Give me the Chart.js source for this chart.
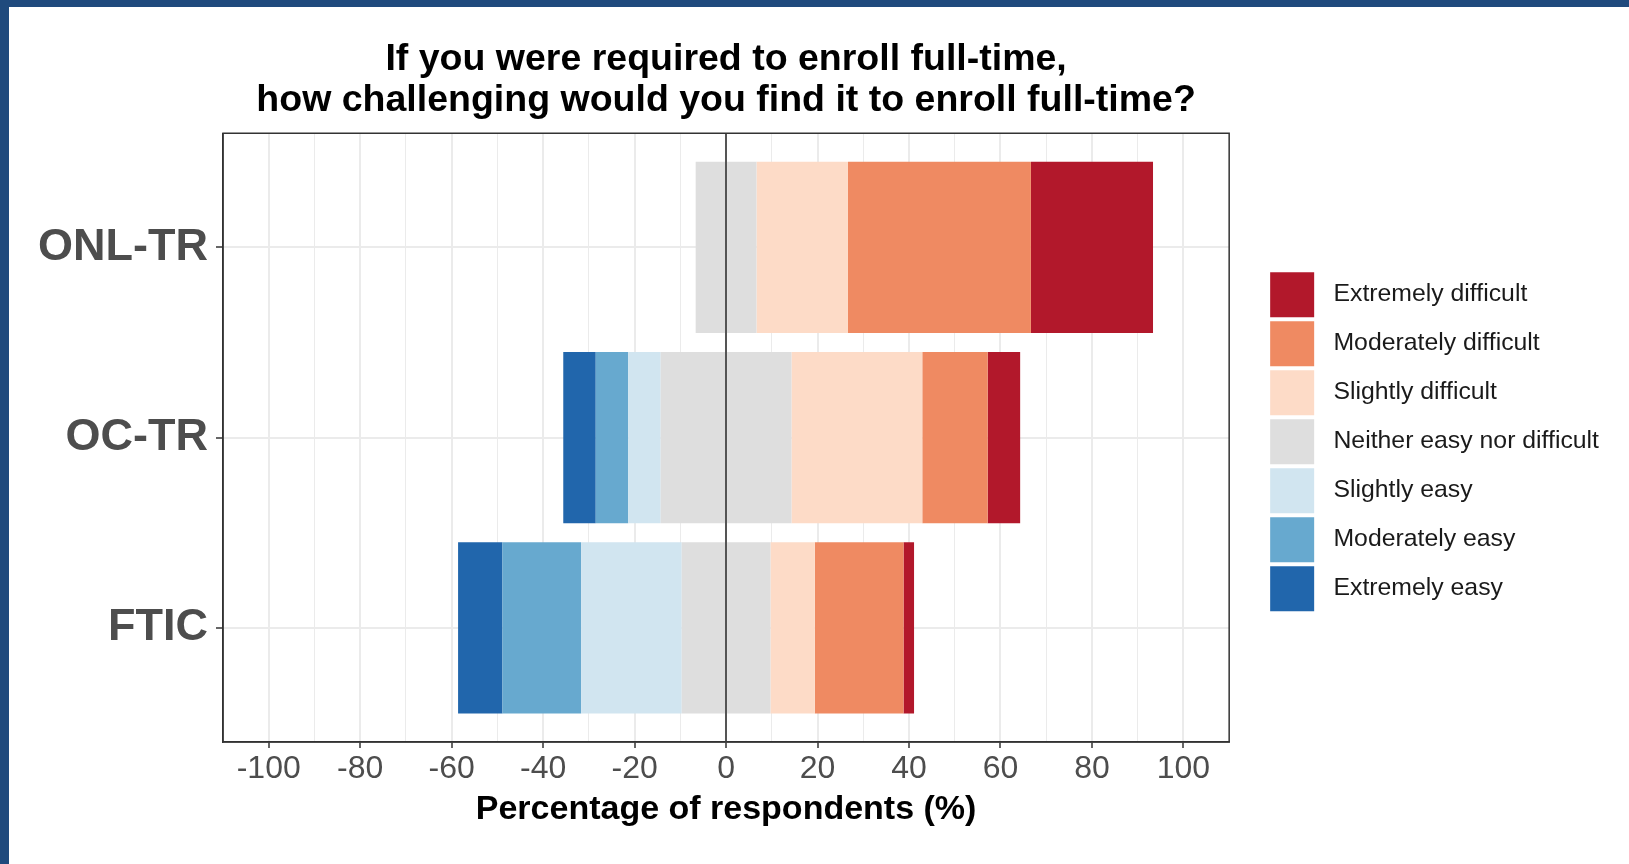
<!DOCTYPE html>
<html>
<head>
<meta charset="utf-8">
<script src="https://cdn.jsdelivr.net/npm/chart.js@4"></script>
<style>
  html, body { margin: 0; padding: 0; background: #1f4a7d; }
  #marco {
    margin: 7px 0 0 9px;
    width: 1620px;
    height: 857px;
    background: #ffffff;
  }
  canvas { display: block; }
</style>
</head>
<body>
<div id="marco"><canvas id="grafico" width="1620" height="857"></canvas></div>
<script>
// Datos (porcentaje de respuestas por grupo)
const grupos = ["ONL-TR", "OC-TR", "FTIC"];
const extremely_easy = [0, 7.1, 9.7];
const moderately_easy = [0, 7.1, 17.2];
const slightly_easy = [0, 7.1, 22.0];
const neither = [13.3, 28.6, 19.4];
const slightly_difficult = [20.0, 28.6, 9.7];
const moderately_difficult = [40.0, 14.3, 19.4];
const extremely_difficult = [26.7, 7.1, 2.3];
const etiquetas_x = [-100, -80, -60, -40, -20, 0, 20, 40, 60, 80, 100];
const niveles_leyenda = [
  "Extremely difficult",
  "Moderately difficult",
  "Slightly difficult",
  "Neither easy nor difficult",
  "Slightly easy",
  "Moderately easy",
  "Extremely easy",
];

const colores = {
  "Extremely difficult": "#b2182b",
  "Moderately difficult": "#ef8a62",
  "Slightly difficult": "#fddbc7",
  "Neither easy nor difficult": "#dedede",
  "Slightly easy": "#d1e5f0",
  "Moderately easy": "#67a9cf",
  "Extremely easy": "#2166ac",
};

Chart.defaults.font.family = "'Liberation Sans', Arial, Helvetica, sans-serif";

function posicion(i) {
  return grupos.length - i;
}

// signo -1 = lado "facil" (izquierda), factor 0.5 = mitad de la neutral
function serie(nombre, valores, signo, factor) {
  return {
    label: nombre,
    data: valores.map((v, i) => ({
      x: v === 0 ? null : signo * v * factor,
      y: posicion(i),
    })),
    backgroundColor: colores[nombre],
    borderWidth: 0,
    categoryPercentage: 0.9,
    barPercentage: 1,
    xAxisID: "x",
    yAxisID: "y",
  };
}

const datasets = [
  serie("Neither easy nor difficult", neither, -1, 0.5),
  serie("Neither easy nor difficult", neither, 1, 0.5),
  serie("Slightly easy", slightly_easy, -1, 1),
  serie("Slightly difficult", slightly_difficult, 1, 1),
  serie("Moderately easy", moderately_easy, -1, 1),
  serie("Moderately difficult", moderately_difficult, 1, 1),
  serie("Extremely easy", extremely_easy, -1, 1),
  serie("Extremely difficult", extremely_difficult, 1, 1),
];

// marco del panel (como panel.border de theme_bw)
const marco_panel = {
  id: "marco_panel",
  afterDraw(chart) {
    const { ctx, chartArea } = chart;
    ctx.save();
    ctx.strokeStyle = "#333333";
    ctx.lineWidth = 1.5;
    ctx.strokeRect(chartArea.left, chartArea.top, chartArea.width, chartArea.height);
    ctx.restore();
  },
};

const config = {
  type: "bar",
  data: { datasets: datasets },
  options: {
    indexAxis: "y",
    responsive: false,
    animation: false,
    layout: { padding: { top: 0, left: 0, right: 20, bottom: 34 } },
    scales: {
      x: {
        type: "linear",
        min: -110,
        max: 110,
        stacked: true,
        afterFit: (eje) => { eje.height = 88; },
        ticks: {
          stepSize: 10,
          autoSkip: false,
          maxRotation: 0,
          padding: 2,
          color: "#4d4d4d",
          font: { size: 32 },
          callback: (v) => (etiquetas_x.includes(v) ? String(v) : ""),
        },
        grid: {
          color: "#ebebeb",
          lineWidth: (c) => (c.tick && c.tick.value % 20 === 0 ? 2 : 1),
          tickLength: 6,
          tickWidth: 1.5,
          tickColor: (c) =>
            c.tick && etiquetas_x.includes(c.tick.value) ? "#333333" : "rgba(0,0,0,0)",
        },
        border: { color: "#333333", width: 1.5 },
        title: {
          display: true,
          text: "Percentage of respondents (%)",
          color: "#000000",
          font: { size: 34, weight: "bold" },
          padding: 0,
        },
      },
      // eje superior: solo la linea del cero, encima de las barras
      x2: {
        type: "linear",
        position: "top",
        min: -110,
        max: 110,
        afterBuildTicks: (eje) => { eje.ticks = [{ value: 0 }]; },
        afterFit: (eje) => { eje.height = 0; },
        ticks: { display: false },
        grid: { z: 1, color: "#555555", lineWidth: 2, drawTicks: false },
        border: { display: false },
      },
      y: {
        type: "linear",
        min: 0.4,
        max: 3.6,
        offset: false,
        stacked: true,
        afterBuildTicks: (eje) => {
          eje.ticks = grupos.map((g, i) => ({ value: posicion(i) }));
        },
        afterFit: (eje) => { eje.width = 214; },
        ticks: {
          autoSkip: false,
          padding: 8,
          color: "#4d4d4d",
          font: { size: 45, weight: "bold" },
          callback: (v) => grupos[grupos.length - v],
        },
        grid: {
          offset: false,
          color: "#ebebeb",
          lineWidth: 2,
          tickLength: 7,
          tickWidth: 1.5,
          tickColor: "#333333",
        },
        border: { color: "#333333", width: 1.5 },
      },
      // eje derecho vacio: separacion con la leyenda
      y2: {
        type: "linear",
        position: "right",
        afterFit: (eje) => { eje.width = 37; },
        ticks: { display: false },
        grid: { display: false, drawTicks: false },
        border: { display: false },
      },
    },
    plugins: {
      title: {
        display: true,
        fullSize: false,
        text: [
          "If you were required to enroll full-time,",
          "how challenging would you find it to enroll full-time?",
        ],
        color: "#000000",
        font: { size: 37.5, weight: "bold", lineHeight: 1.07 },
        padding: { top: 33, bottom: 13 },
      },
      legend: {
        position: "right",
        fullSize: false,
        maxWidth: 440,
        align: "center",
        title: { display: true, text: "", font: { size: 5 }, padding: 1 },
        labels: {
          boxWidth: 44,
          boxHeight: 45,
          padding: 4,
          color: "#1a1a1a",
          font: { size: 24.8 },
          generateLabels: () =>
            niveles_leyenda.map((n) => ({
              text: " " + n,
              fillStyle: colores[n],
              strokeStyle: colores[n],
              fontColor: "#1a1a1a",
              lineWidth: 0,
              hidden: false,
            })),
        },
      },
      tooltip: { enabled: false },
    },
  },
  plugins: [marco_panel],
};

new Chart(document.getElementById("grafico"), config);
</script>
</body>
</html>
